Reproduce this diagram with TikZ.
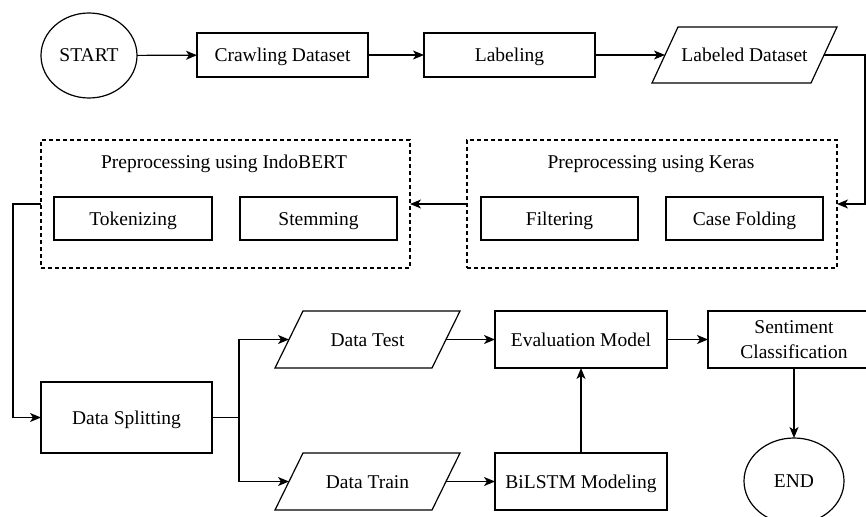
\documentclass[tikz,border=0pt]{standalone}
\usepackage{fontspec}
\setmainfont{Liberation Serif}
\newfontfamily\tnr{Liberation Serif}
\usetikzlibrary{shapes.geometric,arrows.meta}
\newcommand\drawpara[2]{\draw[line width=1.2pt] ([xshift=#2pt]#1.north west) -- (#1.north east) -- ([xshift=-#2pt]#1.south east) -- (#1.south west) -- cycle;}
\begin{document}
\begin{tikzpicture}[x=1pt,y=-1pt,
  every node/.style={font=\tnr\fontsize{19.5}{25}\selectfont, inner sep=0pt, outer sep=0pt, text height=13pt, text depth=0pt},
  box/.style={draw, line width=1.2pt, rectangle, minimum width=#1, minimum height=44pt},
  tall/.style={minimum height=57pt},
  oval/.style={draw, line width=1.2pt, ellipse},
  para/.style={rectangle, minimum width=185pt, minimum height=57pt},
  group/.style={draw, line width=1.2pt, dash pattern=on 4pt off 3pt, rectangle, minimum width=#1, minimum height=128pt},
  arr/.style={line width=1.2pt, -{Stealth[length=11pt,width=9pt,inset=3pt]}},
  ln/.style={line width=1.2pt}]
\useasboundingbox (0,0) rectangle (866,516);
\clip (0,0) rectangle (866,516);

\node[oval, minimum width=96pt, minimum height=85pt] (start) at (89,55.5) {START};
\node[box=171pt] (crawl) at (282.5,55) {Crawling Dataset};
\node[box=171pt] (label) at (509.5,55) {Labeling};
\node[para, minimum height=56pt] (ld) at (744.5,55) {Labeled Dataset};
\drawpara{ld}{26}
\coordinate (ldL) at ([xshift=13pt]ld.west);
\coordinate (ldR) at ([xshift=-13pt]ld.east);

\node[group=370pt, text height=, text depth=] (keras) at (652,204) {};
\node (kerast) at (651,162) {Preprocessing using Keras};
\node[box=157pt, minimum height=43pt] (filter) at (559.5,218.5) {Filtering};
\node[box=157pt, minimum height=43pt] (casef) at (744.5,218.5) {Case Folding};

\node[group=369pt, text height=, text depth=] (indo) at (225.5,204) {};
\node (indot) at (224,162) {Preprocessing using IndoBERT};
\node[box=158pt, minimum height=43pt] (token) at (133,218.5) {Tokenizing};
\node[box=157pt, minimum height=43pt] (stem) at (318.5,218.5) {Stemming};

\node[box=171pt, minimum height=71pt] (split) at (126.5,417.5) {Data Splitting};

\node[para] (dt) at (367.5,339.5) {Data Test};
\drawpara{dt}{28}
\coordinate (dtL) at ([xshift=14pt]dt.west);
\coordinate (dtR) at ([xshift=-14pt]dt.east);
\node[para] (dtr) at (367.5,481.5) {Data Train};
\drawpara{dtr}{28}
\coordinate (dtrL) at ([xshift=14pt]dtr.west);
\coordinate (dtrR) at ([xshift=-14pt]dtr.east);

\node[box=172pt, tall] (eval) at (581,339.5) {Evaluation Model};
\node[box=172pt, tall] (bilstm) at (581,481.5) {BiLSTM Modeling};
\node[box=172pt, tall, text height=13pt, text depth=25pt] (sent) at (794,339.5) {\begin{tabular}[t]{@{}c@{}}Sentiment\\Classification\end{tabular}};
\node[oval, minimum width=100pt, minimum height=86pt] (end) at (794,481) {END};

\draw[arr] (start) -- (crawl);
\draw[arr] (crawl) -- (label);
\draw[arr] (label) -- (ldL);
\draw[arr] (ldR) -- ++(41,0) |- (keras.east);
\draw[arr] (keras.west) -- (indo.east);
\draw[arr] (indo.west) -- ++(-28,0) |- (split.west);
\draw[ln] (split.east) -- ++(27,0) coordinate (sp);
\draw[arr] (sp) |- (dtL);
\draw[arr] (sp) |- (dtrL);
\draw[arr] (dtR) -- (eval);
\draw[arr] (dtrR) -- (bilstm);
\draw[arr] (bilstm) -- (eval);
\draw[arr] (eval) -- (sent);
\draw[arr] (sent) -- (end);
\end{tikzpicture}
\end{document}
